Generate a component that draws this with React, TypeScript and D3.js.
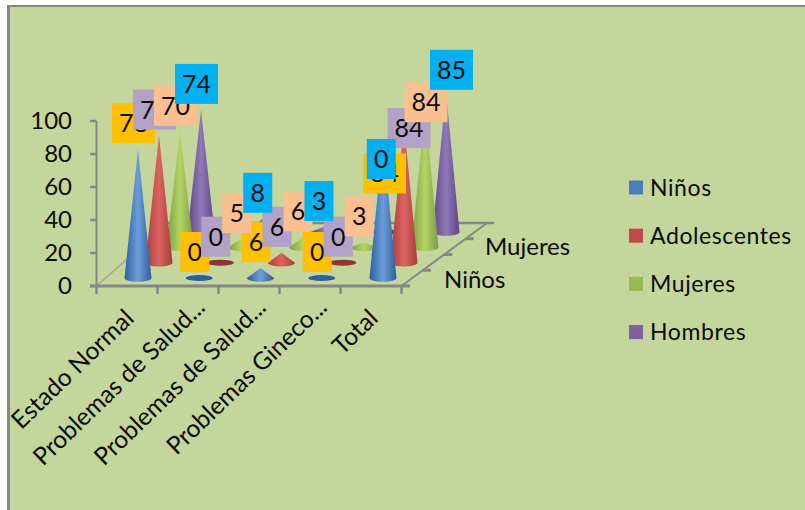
import React from "react";
import * as d3 from "d3";

// Survey counts by category; one array per series.
const categories = ["Estado Normal", "Problemas de Salud...", "Problemas de Salud...", "Problemas Gineco...", "Total"];
const seriesNames = ["Niños", "Adolescentes", "Mujeres", "Hombres"];
const ninos = [78, 0, 6, 0, 84];
const adolescentes = [77, 0, 6, 0, 84];
const mujeres = [70, 5, 6, 3, 84];
const hombres = [74, 8, 3, 0, 85];
const seriesValues = [ninos, adolescentes, mujeres, hombres];
const yTicks = [0, 20, 40, 60, 80, 100];
const depthLabels = ["Niños", "Mujeres"];

// Hand-placed data labels: [series, category, dx, dy] from the default spot above the tip.
const labelNudges: [number, number, number, number][] = [
  [0, 4, 6, 60],
  [1, 4, 9.5, 30],
  [2, 4, 5.5, 19.5],
  [3, 4, 10, 4],
  [3, 3, 1, -47],
];

// Truncated category labels sit a little further along their slant than the short ones.
const categoryLabelShift: [number, number][] = [
  [-2, 7],
  [8, -4],
  [8, -4],
  [8, -4],
  [-2, 7],
];

const W = 805;
const H = 510;
const FONT = "Lato, Carlito, sans-serif";
const AXIS = "#868686";
const BG = "#C4D69B";
const INK = "#0c0c0c";

const coneColors = [
  { edge: "#2F5F9C", mid: "#6C9DDB", flat: "#2F5F98", key: "#4A7EBB" },
  { edge: "#A43F3C", mid: "#DD6360", flat: "#8E3533", key: "#BE4B48" },
  { edge: "#7D9C42", mid: "#B4D564", flat: "#7D9C42", key: "#98B954" },
  { edge: "#5E4686", mid: "#9178B8", flat: "#5E4686", key: "#7D60A0" },
];
const labelFills = ["#FFC000", "#B2A2C7", "#FAC090", "#00B0F0"];

// Oblique projection of the floor: category runs along x, series runs into the depth.
const yScale = d3.scaleLinear().domain([0, 100]).range([286, 121]);
const xEdge = d3.scaleLinear().domain([0, 5]).range([96.5, 401.5]);
const catOffset = d3.scaleLinear().domain([0, 4]).range([138, 383]);
const depthX = d3.scaleLinear().domain([0, 3]).range([0, 63]);
const depthY = d3.scaleLinear().domain([0, 3]).range([278, 232]);
const heightPx = (v: number) => yScale(0) - yScale(v);

const baseX = (c: number, s: number) => catOffset(c) + depthX(s);
const baseY = (s: number) => depthY(s);

const RX = 13.5;
const RY = 3.8;

// Silhouette of a cone: tip, then the front half of the base ellipse.
function conePath(cx: number, cy: number, h: number) {
  const p = d3.path();
  p.moveTo(cx, cy - h);
  p.lineTo(cx + RX, cy);
  const steps = 24;
  for (let k = 1; k <= steps; k++) {
    const a = (Math.PI * k) / steps;
    p.lineTo(cx + RX * Math.cos(a), cy + RY * Math.sin(a));
  }
  p.closePath();
  return p.toString();
}

const drawOrder = d3.range(3, -1, -1).flatMap((s) => d3.range(0, 5).map((c) => ({ s, c })));

function nudgeFor(s: number, c: number) {
  const n = labelNudges.find((e) => e[0] === s && e[1] === c);
  return n ? { dx: n[2], dy: n[3] } : { dx: 0, dy: 0 };
}

export default function App() {
  return (
    <svg
      width={W}
      height={H}
      viewBox={`0 0 ${W} ${H}`}
      style={{ position: "fixed", left: 0, top: 0, display: "block", background: "#fff" }}
      fontFamily={FONT}
    >
      <defs>
        {coneColors.map((c, i) => (
          <linearGradient id={`cone-${i}`} key={i} x1="0" x2="1" y1="0" y2="0">
            <stop offset="0" stopColor={c.edge} />
            <stop offset="0.5" stopColor={c.mid} />
            <stop offset="1" stopColor={c.edge} />
          </linearGradient>
        ))}
      </defs>

      {/* Chart area with a heavy border on the visible left and top edges */}
      <rect x={7} y={5} width={W} height={H} fill={AXIS} />
      <rect x={10} y={7} width={W} height={H} fill={BG} />

      {/* Floor */}
      <line x1={xEdge(0)} y1={286} x2={168} y2={223} stroke="#A6A69C" strokeWidth={1.5} />
      <line x1={168} y1={223} x2={494} y2={223} stroke={AXIS} strokeWidth={2.5} />
      <line x1={90} y1={286} x2={410} y2={286} stroke={AXIS} strokeWidth={3} />
      <line x1={xEdge(5)} y1={286} x2={487} y2={223} stroke={AXIS} strokeWidth={2} />
      {d3.range(1, 4).map((k) => {
        const x = xEdge(5) + (85.5 * k) / 4;
        const y = 286 - (63 * k) / 4;
        return <line key={k} x1={x} y1={y} x2={x + 8} y2={y} stroke={AXIS} strokeWidth={3} />;
      })}

      {/* Value axis */}
      <line x1={xEdge(0)} y1={yScale(0)} x2={xEdge(0)} y2={yScale(100)} stroke={AXIS} strokeWidth={2} />
      {yTicks.map((t) => (
        <g key={t}>
          <line x1={90} y1={yScale(t)} x2={xEdge(0)} y2={yScale(t)} stroke={AXIS} strokeWidth={2.5} />
          <text x={72} y={yScale(t) + 8} textAnchor="end" fontSize={24} fill={INK}>
            {t}
          </text>
        </g>
      ))}

      {/* Category axis */}
      {d3.range(0, 6).map((k) => (
        <line key={k} x1={xEdge(k)} y1={286} x2={xEdge(k)} y2={294} stroke={AXIS} strokeWidth={2.5} />
      ))}
      {categories.map((c, i) => {
        const x = xEdge(i) + 41 + categoryLabelShift[i][0];
        const y = 313 + categoryLabelShift[i][1];
        return (
          <text key={i} transform={`translate(${x},${y}) rotate(-44)`} textAnchor="end" fontSize={24.5} fill={INK}>
            {c}
          </text>
        );
      })}

      {/* Depth axis */}
      {depthLabels.map((l, i) => (
        <text key={l} x={i === 0 ? 444 : 485} y={i === 0 ? 288 : 255} fontSize={24} fill={INK}>
          {l}
        </text>
      ))}

      {/* Cones, back row first; zero values collapse to a flat disc */}
      {drawOrder.map(({ s, c }) => {
        const v = seriesValues[s][c];
        const cx = baseX(c, s);
        const cy = baseY(s);
        if (v === 0) {
          return <ellipse key={`${s}-${c}`} cx={cx} cy={cy} rx={RX} ry={3} fill={coneColors[s].flat} />;
        }
        return <path key={`${s}-${c}`} d={conePath(cx, cy, heightPx(v))} fill={`url(#cone-${s})`} />;
      })}

      {/* Data labels, one series at a time so later series sit on top */}
      {seriesValues.map((vals, s) =>
        vals.map((v, c) => {
          const n = nudgeFor(s, c);
          const cx = baseX(c, s) - 4.5 + n.dx;
          const cy = baseY(s) - heightPx(v) - 26 + n.dy;
          const w = String(v).length > 1 ? 43 : 29;
          return (
            <g key={`${s}-${c}`}>
              <rect x={cx - w / 2} y={cy - 20} width={w} height={40} fill={labelFills[s]} />
              <text x={cx} y={cy + 9} textAnchor="middle" fontSize={25} fill={INK}>
                {v}
              </text>
            </g>
          );
        })
      )}

      {/* Legend */}
      {seriesNames.map((name, i) => {
        const y = 187.5 + i * 48.2;
        return (
          <g key={name}>
            <rect x={629} y={y - 7} width={14} height={14} fill={coneColors[i].key} />
            <text x={650} y={y + 8} fontSize={23} fill={INK} letterSpacing={0.6}>
              {name}
            </text>
          </g>
        );
      })}
    </svg>
  );
}
